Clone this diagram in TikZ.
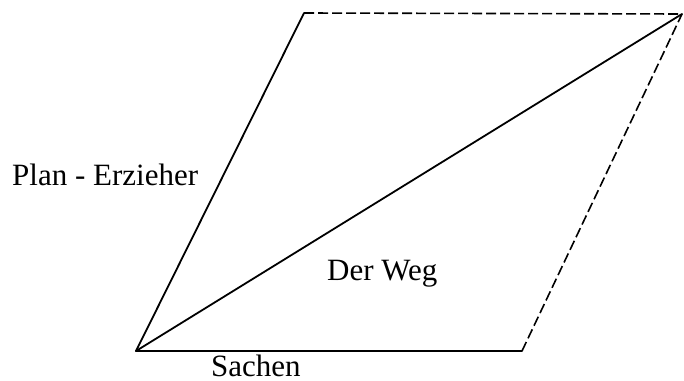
\documentclass[tikz,border=0pt]{standalone}
\usepackage{fontspec}
\setmainfont{Liberation Serif}
\begin{document}
\begin{tikzpicture}[x=1pt,y=-1pt,
  solidline/.style={line width=1.8pt,line cap=round,line join=round},
  dashline/.style={line width=1.6pt,dash pattern=on 10pt off 4pt},
  lbl/.style={anchor=base west,inner sep=0pt,text depth=0pt,font=\fontsize{31}{35}\selectfont}]
\useasboundingbox (0,0) rectangle (684,380);
\coordinate (A) at (136,351);
\coordinate (B) at (522,351);
\coordinate (C) at (304,13);
\coordinate (D) at (682,14);
\draw[solidline] (C) -- (A) -- (B);
\draw[solidline] (A) -- (D);
\draw[dashline] (C) -- (D);
\draw[dashline] (B) -- (D);
\node[lbl] (plan) at (12,185) {Plan - Erzieher};
\node[lbl] (weg) at (327,280) {Der Weg};
\node[lbl] (sachen) at (211,376) {Sachen};
\end{tikzpicture}
\end{document}
